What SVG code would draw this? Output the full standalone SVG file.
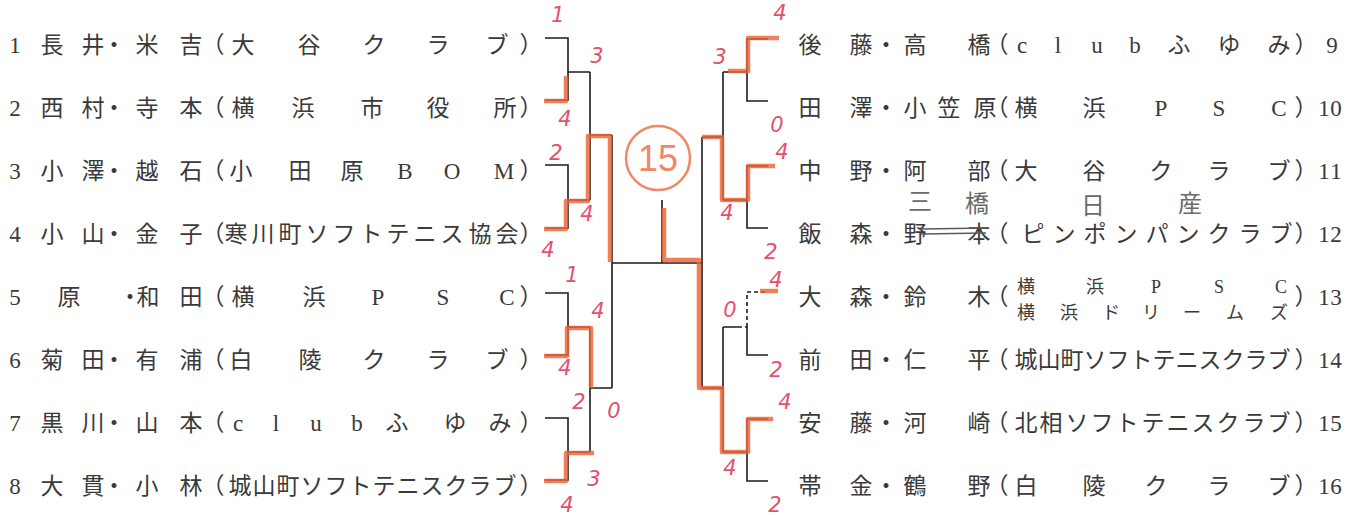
<svg xmlns="http://www.w3.org/2000/svg" width="1350" height="515" viewBox="0 0 1350 515">
<style>
.t{font-family:"Liberation Serif","Noto Sans CJK JP",serif;font-size:23px;fill:#3a3a3a;text-anchor:middle}
.s{font-size:18px}
.ln{fill:none;stroke:#1c1c1c;stroke-width:1.6}
.dl{fill:none;stroke:#1c1c1c;stroke-width:1.6;stroke-dasharray:4 3}
.hl{fill:none;stroke:#ec6437;stroke-width:4.5;stroke-opacity:.82;stroke-linejoin:round}
.sc{font-family:"DejaVu Sans",sans-serif;font-size:21px;font-style:italic;fill:#e4506e;text-anchor:middle}
.pn{font-family:"Noto Sans CJK JP",sans-serif;font-size:24px;fill:#6a6a6a;text-anchor:middle}
</style>
<rect width="1350" height="515" fill="#ffffff"/>

<g id="p1"><text class="t" y="53" x="15 52 93 114 147 191 213 243 309 374 438 497 531">1長井・米吉（大谷クラブ）</text></g>
<g id="p2"><text class="t" y="116" x="15 52 93 114 147 191 213 243 303 372 438 505 531">2西村・寺本（横浜市役所）</text></g>
<g id="p3"><text class="t" y="179" x="15 52 93 114 147 191 213 241 300 352 405 452 504 531">3小澤・越石（小田原BOM）</text></g>
<g id="p4"><text class="t" y="242" x="15 52 93 114 147 191 213 236 263 290 317 344 371 398 425 452 480 507 531">4小山・金子（寒川町ソフトテニス協会）</text></g>
<g id="p5"><text class="t" y="305" x="15 69 130 148 191 213 243 314 378 443 507 531">5原・和田（横浜PSC）</text></g>
<g id="p6"><text class="t" y="368" x="15 52 93 114 147 191 213 241 310 374 438 497 531">6菊田・有浦（白陵クラブ）</text></g>
<g id="p7"><text class="t" y="431" x="15 52 93 114 147 191 213 238 276 316 357 397 455 500 531">7黒川・山本（clubふゆみ）</text></g>
<g id="p8"><text class="t" y="494" x="15 52 93 114 147 191 213 240 264 288 312 336 360 384 408 432 456 480 505 531">8大貫・小林（城山町ソフトテニスクラブ）</text></g>

<g id="p9"><text class="t" y="53" x="810 861 886 915 979 997 1022 1058 1097 1135 1179 1229 1279 1306 1332">後藤・高橋（clubふゆみ）9</text></g>
<g id="p10"><text class="t" y="116" x="810 861 886 915 949 985 997 1026 1094 1161 1219 1279 1306 1324 1336">田澤・小笠原（横浜PSC）10</text></g>
<g id="p11"><text class="t" y="179" x="810 861 886 915 979 997 1026 1094 1161 1219 1279 1306 1324 1336">中野・阿部（大谷クラブ）11</text></g>
<g id="p12">
<text class="t" y="242" x="810 861 886 915 979 997 1033 1064 1095 1126 1157 1188 1219 1250 1281 1306 1324 1336">飯森・野本（ピンポンパンクラブ）12</text>
<path d="M921 229 L988 228 M921 234 L986 233" fill="none" stroke="#5a5a5a" stroke-width="1.4"/>
<text class="pn" x="920" y="210" font-size="21">三</text>
<text class="pn" x="977" y="212">橋</text>
<text class="pn" x="1093" y="214" font-size="20">日</text>
<text class="pn" x="1190" y="212">産</text>
</g>
<g id="p13">
<text class="t" y="305" x="810 861 886 915 979 997">大森・鈴木（</text>
<text class="t s" y="293" x="1026 1095 1156 1219 1281">横浜PSC</text>
<text class="t s" y="319" x="1026 1069 1111 1151 1192 1235 1279">横浜ドリームズ</text>
<text class="t" y="305" x="1306 1324 1336">）13</text>
</g>
<g id="p14"><text class="t" y="368" x="810 861 886 915 979 997 1026 1049 1072 1095 1118 1141 1164 1187 1210 1233 1256 1279 1306 1324 1336">前田・仁平（城山町ソフトテニスクラブ）14</text></g>
<g id="p15"><text class="t" y="431" x="810 861 886 915 979 997 1026 1051 1077 1102 1127 1153 1178 1203 1228 1254 1279 1306 1324 1336">安藤・河崎（北相ソフトテニスクラブ）15</text></g>
<g id="p16"><text class="t" y="494" x="810 861 886 915 979 997 1026 1094 1156 1219 1279 1306 1324 1336">帯金・鶴野（白陵クラブ）16</text></g>

<g id="connectors">
<path class="ln" d="M545 38H568V100H545M545 165H568V228H545M545 293H568V355H545M545 418H568V480H545"/>
<path class="ln" d="M568 72H590M568 200H590M568 327H590M568 452H590M590 72V200M590 327V452"/>
<path class="ln" d="M590 135H612M590 388H612M612 135V388M612 263H702M662 263V200"/>
<path class="ln" d="M702 137V388M702 137H723M702 388H723M723 72V200M723 327V452"/>
<path class="ln" d="M723 72H747M723 200H747M723 327H738M723 452H747"/>
<path class="ln" d="M768 39H747V101H768M768 166H747V228H768M747 327V355H768M768 419H747V481H768"/>
<path class="dl" d="M738 327H747M747 327V292H768"/>
</g>

<g id="highlights">
<path class="hl" d="M544 101H566V76"/>
<path class="hl" d="M544 229H566V201H588V136H610V262"/>
<path class="hl" d="M544 356H567V328H591V388"/>
<path class="hl" d="M544 481H566V453H594"/>
<path class="hl" d="M664 208V260H699V388H722V452H748V419H773"/>
<path class="hl" d="M779 38H748V71H728"/>
<path class="hl" d="M702 137H722V200H748V166H775"/>
<path class="hl" d="M760 291H778" stroke-width="2.5"/>
</g>

<g id="final">
<circle cx="658" cy="158" r="32" fill="none" stroke="#f08866" stroke-width="2.5"/>
<text x="658" y="171" font-family="Liberation Sans,sans-serif" font-size="36" fill="#f08866" text-anchor="middle">15</text>
</g>

<g id="scores">
<text class="sc" x="558" y="22">1</text>
<text class="sc" x="597" y="63">3</text>
<text class="sc" x="565" y="126">4</text>
<text class="sc" x="556" y="160">2</text>
<text class="sc" x="587" y="221">4</text>
<text class="sc" x="548" y="257">4</text>
<text class="sc" x="572" y="282">1</text>
<text class="sc" x="598" y="318">4</text>
<text class="sc" x="565" y="375">4</text>
<text class="sc" x="579" y="409">2</text>
<text class="sc" x="614" y="418">0</text>
<text class="sc" x="594" y="486">3</text>
<text class="sc" x="567" y="512">4</text>
<text class="sc" x="780" y="20">4</text>
<text class="sc" x="720" y="64">3</text>
<text class="sc" x="777" y="132">0</text>
<text class="sc" x="782" y="159">4</text>
<text class="sc" x="727" y="220">4</text>
<text class="sc" x="771" y="259">2</text>
<text class="sc" x="776" y="287">4</text>
<text class="sc" x="730" y="317">0</text>
<text class="sc" x="776" y="377">2</text>
<text class="sc" x="785" y="409">4</text>
<text class="sc" x="730" y="475">4</text>
<text class="sc" x="775" y="512">2</text>
</g>
</svg>
